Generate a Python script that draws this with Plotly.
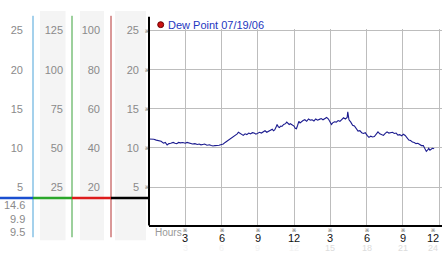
import plotly.graph_objects as go

W, H = 442, 253

# ---- data ----
hours = [0.0, 0.2, 0.4, 0.6, 0.8, 1.0, 1.2, 1.35, 1.5, 1.65,
         1.8, 2.0, 2.15, 2.3, 2.45, 2.6, 2.8, 3.0, 3.15, 3.3,
         3.45, 3.6, 3.8, 4.0, 4.15, 4.3, 4.45, 4.6, 4.8, 5.0,
         5.15, 5.3, 5.45, 5.6, 5.8, 6.0, 6.15, 6.3, 6.45, 6.6,
         6.8, 7.0, 7.15, 7.3, 7.4, 7.5, 7.65, 7.8, 7.95, 8.1,
         8.25, 8.4, 8.55, 8.7, 8.85, 9.0, 9.15, 9.3, 9.45, 9.6,
         9.75, 9.9, 10.05, 10.2, 10.3, 10.4, 10.5, 10.6, 10.7, 10.8,
         10.9, 11.0, 11.15, 11.3, 11.4, 11.5, 11.6, 11.7, 11.85, 12.0,
         12.1, 12.2, 12.3, 12.4, 12.5, 12.6, 12.75, 12.9, 13.05, 13.2,
         13.35, 13.5, 13.65, 13.8, 13.95, 14.1, 14.25, 14.4, 14.55, 14.7,
         14.85, 15.0, 15.1, 15.2, 15.35, 15.5, 15.65, 15.8, 15.95, 16.1,
         16.25, 16.4, 16.45, 16.55, 16.7, 16.85, 17.0, 17.15, 17.3, 17.45,
         17.6, 17.75, 17.9, 18.05, 18.2, 18.35, 18.5, 18.65, 18.8, 18.95,
         19.1, 19.25, 19.4, 19.55, 19.7, 19.85, 20.0, 20.15, 20.3, 20.45,
         20.6, 20.75, 20.9, 21.05, 21.2, 21.35, 21.5, 21.65, 21.8, 21.95,
         22.1, 22.25, 22.4, 22.55, 22.7, 22.85, 22.95, 23.05, 23.15, 23.25,
         23.35, 23.45, 23.6]
dew_point = [11.15, 11.15, 11.1, 11.0, 10.95, 10.85, 10.6, 10.7, 10.37, 10.55,
             10.6, 10.7, 10.6, 10.55, 10.7, 10.65, 10.7, 10.6, 10.7, 10.65,
             10.6, 10.5, 10.55, 10.45, 10.5, 10.4, 10.45, 10.5, 10.35, 10.4,
             10.3, 10.25, 10.3, 10.3, 10.35, 10.45, 10.5, 10.7, 10.85, 11.0,
             11.2, 11.4, 11.6, 11.8, 12.0, 11.9, 11.75, 11.6, 11.8, 11.7,
             11.9, 11.8, 11.95, 11.9, 11.75, 11.9, 12.0, 11.9, 12.1, 12.2,
             12.0, 12.1, 12.3, 12.4, 12.2, 12.3, 12.6, 13.0, 12.7, 12.6,
             12.8, 12.75, 13.0, 13.1, 13.3, 13.2, 13.0, 13.1, 12.9, 12.8,
             12.5, 12.45, 12.9, 13.4, 13.2, 13.35, 13.5, 13.6, 13.4, 13.7,
             13.55, 13.6, 13.45, 13.7, 13.55, 13.65, 13.75, 13.6, 13.8, 13.9,
             13.7, 13.3, 13.0, 13.2, 13.35, 13.3, 13.5, 13.4, 13.7, 13.85,
             13.7, 13.9, 14.6, 13.6, 13.3, 12.9, 12.8, 12.4, 12.15, 12.2,
             11.95, 11.85, 11.95, 11.6, 11.35, 11.5, 11.4, 11.45, 11.7, 12.05,
             11.8, 11.7, 11.6, 11.85, 12.05, 11.9, 11.95, 12.0, 11.85, 11.9,
             11.65, 11.7, 11.55, 11.75, 11.6, 11.3, 11.0, 10.95, 10.75, 10.7,
             10.55, 10.6, 10.45, 10.3, 10.3, 9.95, 9.55, 9.7, 9.95, 9.7,
             9.8, 9.95, 9.9]

series_name = "Dew Point 07/19/06"
y_ticks = [5, 10, 15, 20, 25]          # main scale (also column 1)
col2_ticks = [25, 50, 75, 100, 125]     # x5 scale
col3_ticks = [20, 40, 60, 80, 100]      # x4 scale
x_ticks = [3, 6, 9, 12, 15, 18, 21, 24]
x_labels = ["3", "6", "9", "12", "3", "6", "9", "12"]
x_faint = ["3", "6", "9", "12", "15", "18", "21", "24"]
stats_labels = ["14.6", "9.9", "9.5"]

# ---- geometry helpers (pixel -> paper) ----
def px(x):
    return x / W

def py(y):
    return 1 - y / H

Y_RANGE = [0.094, 25.25]
X_RANGE = [0, 24.248]
FONT = "Liberation Sans, Arial, sans-serif"
GRAY = "#8a8a8a"

fig = go.Figure()
fig.add_trace(go.Scatter(x=hours, y=dew_point, mode="lines",
                         line=dict(color="#1b1b8f", width=1.1),
                         showlegend=False, hoverinfo="skip"))
for ax in ["y2", "y3", "y4"]:
    fig.add_trace(go.Scatter(x=[None], y=[None], yaxis=ax, showlegend=False))

def left_axis(pos, rng, ticks, standoff):
    return dict(overlaying="y", anchor="free", side="left", showgrid=False,
                zeroline=False, showline=False, ticks="", color=GRAY,
                tickfont=dict(family=FONT, size=11, color=GRAY),
                domain=[py(225), py(25)], position=pos, range=rng,
                tickvals=ticks, ticklabelstandoff=standoff)

layout = dict(
    width=W, height=H, margin=dict(l=0, r=0, t=0, b=0),
    paper_bgcolor="white", plot_bgcolor="white", showlegend=False,
    xaxis=dict(domain=[px(149), 1], range=X_RANGE, tickvals=x_ticks,
               showticklabels=False, showgrid=True, gridcolor="#bdbdbd",
               gridwidth=1, zeroline=False, showline=True, linecolor="black",
               linewidth=1.5, ticks=""),
    yaxis=dict(domain=[py(225), py(25)], range=Y_RANGE, tickvals=y_ticks,
               showgrid=True, gridcolor="#bdbdbd", gridwidth=1, zeroline=False,
               showline=False, ticks="", ticklabelstandoff=9, color=GRAY,
               tickfont=dict(family=FONT, size=11, color=GRAY)),
    yaxis2=left_axis(px(33), Y_RANGE, y_ticks, 10),
    yaxis3=left_axis(px(72), [v * 5 for v in Y_RANGE], col2_ticks, 9),
    yaxis4=left_axis(px(111), [v * 4 for v in Y_RANGE], col3_ticks, 11),
)
fig.update_layout(**layout)

shapes = []
# light gray bands behind columns
for x0, x1 in [(40, 65.5), (80, 104), (115, 146)]:
    shapes.append(dict(type="rect", xref="paper", yref="paper", x0=px(x0), x1=px(x1),
                       y0=py(240), y1=py(7), fillcolor="#f4f4f4", line_width=0,
                       layer="below"))
# colored vertical scale lines
for x, c in [(33, "#4aa3d9"), (72, "#3aa13a"), (111, "#b53232")]:
    shapes.append(dict(type="line", xref="paper", yref="paper", x0=px(x), x1=px(x),
                       y0=py(237), y1=py(12), line=dict(color=c, width=1)))
# black main axis line
shapes.append(dict(type="line", xref="paper", yref="paper", x0=px(149), x1=px(149),
                   y0=py(225), y1=py(13), line=dict(color="black", width=2)))
# thick horizontal marker line
for x0, x1, c in [(0, 33, "#1a4fd0"), (33, 72, "#2aa62a"), (72, 111, "#dd1c1c"),
                  (111, 149, "black")]:
    shapes.append(dict(type="line", xref="paper", yref="paper", x0=px(x0), x1=px(x1),
                       y0=py(197), y1=py(197), line=dict(color=c, width=2.5)))
# legend dot
shapes.append(dict(type="circle", xref="paper", yref="paper",
                   x0=px(157.7), x1=px(163.7), y0=py(24), y1=py(18),
                   fillcolor="#cc1111", line=dict(color="#6a0000", width=1)))
fig.update_layout(shapes=shapes)

ann = []
# tick glyphs on left axis
for v in y_ticks:
    ann.append(dict(text="※", xref="paper", yref="y", x=px(147), y=v,
                    showarrow=False, font=dict(size=5, color="#333"),
                    xanchor="center", yanchor="middle"))
# bottom labels
for i, (v, lab, fl) in enumerate(zip(x_ticks, x_labels, x_faint)):
    shift = -6 if i == len(x_ticks) - 1 else 0
    ann.append(dict(text="※", xref="x", yref="paper", x=v, y=py(229.5), xshift=shift,
                    showarrow=False, font=dict(size=5, color="#333"),
                    xanchor="center", yanchor="middle"))
    ann.append(dict(text=lab, xref="x", yref="paper", x=v, y=py(237.5), xshift=shift,
                    showarrow=False, font=dict(family=FONT, size=11, color="#111"),
                    xanchor="center", yanchor="middle"))
    ann.append(dict(text=fl, xref="x", yref="paper", x=v, y=py(248), xshift=shift,
                    showarrow=False,
                    font=dict(family=FONT, size=9,
                              color="#f2f2f2" if v <= 12 else "#dcdcdc"),
                    xanchor="center", yanchor="middle"))
ann.append(dict(text="Hours", xref="paper", yref="paper", x=px(152.5), y=py(232),
                showarrow=False, font=dict(family=FONT, size=10, color="#999"),
                xanchor="left", yanchor="middle"))
ann.append(dict(text=series_name, xref="paper", yref="paper", x=px(165.5), y=py(21),
                showarrow=False, font=dict(family=FONT, size=11, color="#2437c0"),
                xanchor="left", yanchor="middle"))
for lab, y in zip(stats_labels, [204.5, 218.5, 232]):
    ann.append(dict(text=lab, xref="paper", yref="paper", x=px(27), y=py(y),
                    showarrow=False, font=dict(family=FONT, size=11, color=GRAY),
                    xanchor="right", yanchor="middle"))
fig.update_layout(annotations=ann)

fig.write_html("out.html")
